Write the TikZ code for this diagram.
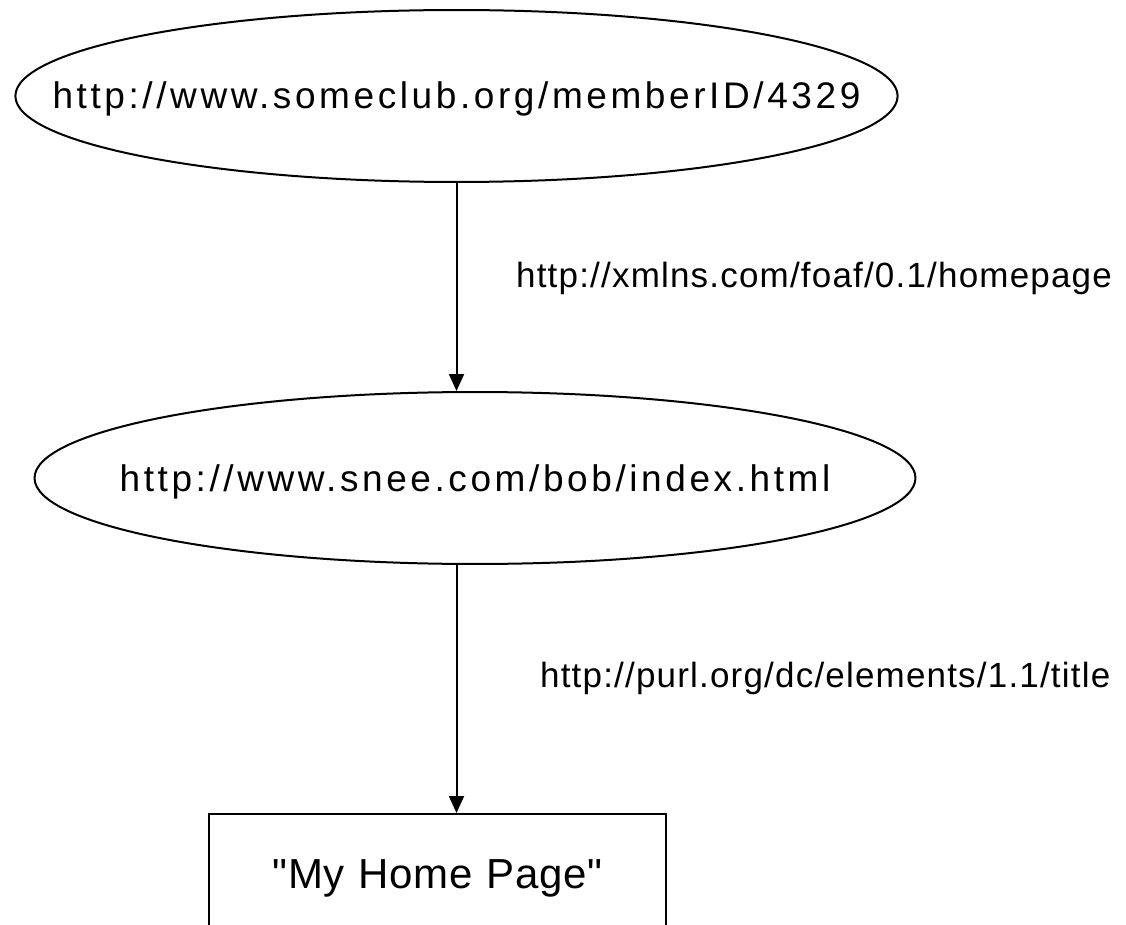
\documentclass[tikz,border=0pt]{standalone}
\usepackage{fontspec}
\setmainfont{Liberation Sans}
\newfontfamily\ellfont[LetterSpace=9.7]{Liberation Sans}
\newfontfamily\lblfont[LetterSpace=3.4]{Liberation Sans}
\newfontfamily\boxfont[LetterSpace=1.6]{Liberation Sans}
\usetikzlibrary{shapes.geometric,arrows.meta}
\tikzset{
  resource/.style={ellipse, draw=black, line width=2pt, inner ysep=47.8pt,
    font=\ellfont\fontsize{37}{40}\selectfont, text height=26pt, text depth=0pt},
  literal/.style={rectangle, draw=black, line width=2.2pt, inner sep=0pt,
    minimum width=457pt, text width=457pt, align=center,
    font=\boxfont\fontsize{42}{46}\selectfont, text height=74pt, text depth=130pt},
  proplabel/.style={inner sep=0pt, anchor=base west,
    font=\lblfont\fontsize{35}{38}\selectfont},
  arc/.style={line width=2pt, -{Triangle[width=15pt,length=17pt]}}
}
\begin{document}
\begin{tikzpicture}[x=1pt,y=-1pt]
\clip (0,0) rectangle (1126,925);
\fill[white] (0,0) rectangle (1126,925);
\node[resource, inner xsep=-92pt] (e1) at (456.5,96) {http://www.someclub.org/memberID/4329};
\node[resource, inner xsep=-43.9pt] (e2) at (475,478) {http://www.snee.com/bob/index.html};
\node[literal, anchor=north] (lit) at (437.5,813) {"My Home Page"};
\draw[arc] (e1.south) -- (e2.north -| e1.south);
\draw[arc] (e2.south -| e1.south) -- (lit.north -| e1.south);
\node[proplabel] (p1) at (516,287) {http://xmlns.com/foaf/0.1/homepage};
\node[proplabel] (p2) at (540,687) {http://purl.org/dc/elements/1.1/title};
\end{tikzpicture}
\end{document}
